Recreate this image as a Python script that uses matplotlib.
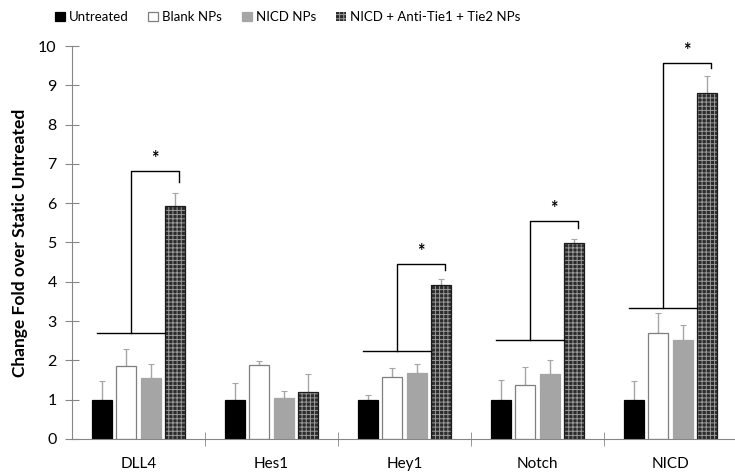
import numpy as np
import matplotlib.pyplot as plt

# data
genes = ["DLL4", "Hes1", "Hey1", "Notch", "NICD"]
series = ["Untreated", "Blank NPs", "NICD NPs", "NICD + Anti-Tie1 + Tie2 NPs"]
untreated = [1.0, 1.0, 1.0, 1.0, 1.0]
blank = [1.86, 1.89, 1.58, 1.38, 2.70]
nicd_np = [1.55, 1.05, 1.68, 1.66, 2.52]
combo = [5.94, 1.20, 3.93, 4.98, 8.80]
untreated_err = [0.48, 0.43, 0.12, 0.50, 0.48]
blank_err = [0.44, 0.10, 0.23, 0.46, 0.51]
nicd_np_err = [0.36, 0.17, 0.23, 0.34, 0.38]
combo_err = [0.31, 0.46, 0.15, 0.12, 0.44]

# significance brackets: gene index, base line, top line, right end
sig_idx = [0, 2, 3, 4]
sig_base = [2.70, 2.24, 2.52, 3.34]
sig_top = [6.83, 4.46, 5.55, 9.57]
sig_end = [6.55, 4.30, 5.36, 9.43]

plt.rcParams['font.family'] = ['Lato', 'DejaVu Sans']
plt.rcParams['hatch.linewidth'] = 0.7

fig = plt.figure(figsize=(7.35, 4.76), dpi=100)
ax = fig.add_axes([72 / 735, 1 - 439 / 476, 1 - 72 / 735, (439 - 46) / 476])

x = np.arange(len(genes))
w = 0.15
step = 0.184
vals = [untreated, blank, nicd_np, combo]
errs = [untreated_err, blank_err, nicd_np_err, combo_err]
styles = [
    dict(color="black", edgecolor="black"),
    dict(color="white", edgecolor="#7f7f7f"),
    dict(color="#a5a5a5", edgecolor="#a5a5a5"),
    dict(color="#2b2b2b", edgecolor="#9a9a9a", hatch="++++"),
]
for i, (v, e, st) in enumerate(zip(vals, errs, styles)):
    off = (i - 1.5) * step
    ax.bar(x + off, v, w, linewidth=0.9 if i < 3 else 0, label=series[i], zorder=2, **st)
    ax.errorbar(x + off, v, yerr=[np.zeros(len(e)), e], fmt="none",
                ecolor="#a6a6a6", elinewidth=1.0, capsize=2, capthick=0.8, zorder=1)
# dark outline on the patterned bars
ax.bar(x + 1.5 * step, combo, w, fill=False, edgecolor="#1c1c1c", linewidth=0.9, zorder=2)

for k, gi in enumerate(sig_idx):
    x0 = gi - 0.31
    x1 = gi + 1.5 * step - w / 2
    xm = (x0 + x1) / 2
    xr = gi + 1.5 * step + 0.03
    ax.plot([x0, x1], [sig_base[k]] * 2, color="black", lw=1.0, zorder=3)
    ax.plot([xm, xm, xr, xr], [sig_base[k], sig_top[k], sig_top[k], sig_end[k]],
            color="black", lw=1.0, zorder=3)
    ax.text((xm + xr) / 2, sig_top[k] + 0.1, "*", ha="center", va="bottom",
            fontsize=13, fontweight="bold")

ax.set_xlim(-0.5, 4.485)
ax.set_ylim(0, 10)
ax.set_yticks(range(11))
ax.set_xticks(x)
ax.set_xticklabels(genes)
ax.set_xticks(np.arange(0.5, 4.5, 1), minor=True)
ax.tick_params(axis="x", which="major", length=0, pad=13, labelsize=11)
ax.tick_params(axis="x", which="minor", length=10, direction="inout", color="#868686")
ax.tick_params(axis="y", length=10, direction="inout", color="#868686", labelsize=11.5, pad=6)
for s in ["top", "right"]:
    ax.spines[s].set_visible(False)
for s in ["left", "bottom"]:
    ax.spines[s].set_color("#868686")
ax.set_ylabel("Change Fold over Static Untreated", fontsize=12.5, fontweight="bold", labelpad=7)

fig.legend(loc="center left", bbox_to_anchor=(55 / 735, 0.964), ncol=4, frameon=False,
           handlelength=0.75, handleheight=0.75, handletextpad=0.3, columnspacing=1.5,
           fontsize=9.5, borderaxespad=0, borderpad=0)

fig.savefig("out.png", dpi=100)
